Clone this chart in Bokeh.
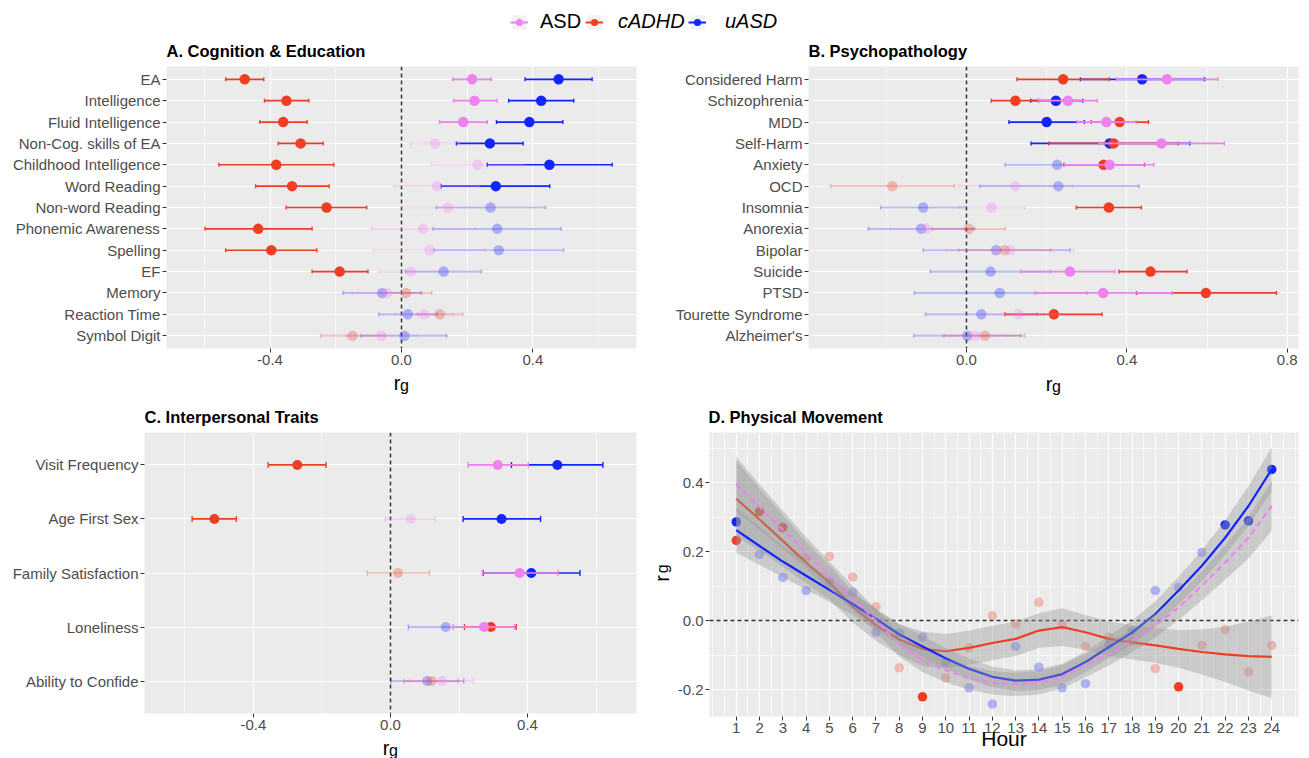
import numpy as np
from bokeh.plotting import figure
from bokeh.models import (FactorRange, Range1d, FixedTicker, PrintfTickFormatter, Span, Label,
                          Legend, LegendItem, ColumnDataSource)
from bokeh.layouts import column, row
from bokeh.embed import file_html
from bokeh.resources import INLINE

FONT = "Liberation Sans"
COL = {"ASD": "#EE82EE", "cADHD": "#EE3F24", "uASD": "#1426FF"}
BG = "#EBEBEB"
FADE = 0.3

# ---------------- Panel A: Cognition & Education ----------------
cats_A = ["EA", "Intelligence", "Fluid Intelligence", "Non-Cog. skills of EA", "Childhood Intelligence",
          "Word Reading", "Non-word Reading", "Phonemic Awareness", "Spelling", "EF", "Memory",
          "Reaction Time", "Symbol Digit"]
ASD_A_est = [0.215, 0.222, 0.188, 0.102, 0.232, 0.108, 0.141, 0.066, 0.085, 0.029, -0.044, 0.069, -0.061]
ASD_A_lo = [0.156, 0.159, 0.116, 0.027, 0.091, -0.023, 0.000, -0.092, -0.084, -0.069, -0.150, -0.020, -0.170]
ASD_A_hi = [0.273, 0.291, 0.261, 0.177, 0.373, 0.239, 0.282, 0.224, 0.254, 0.127, 0.062, 0.158, 0.048]
ASD_A_sig = [1, 1, 1, 0, 0, 0, 0, 0, 0, 0, 0, 0, 0]
cADHD_A_est = [-0.477, -0.350, -0.360, -0.307, -0.381, -0.333, -0.228, -0.436, -0.396, -0.188, 0.014, 0.117, -0.149]
cADHD_A_lo = [-0.535, -0.417, -0.431, -0.375, -0.556, -0.444, -0.351, -0.598, -0.535, -0.272, -0.064, 0.048, -0.246]
cADHD_A_hi = [-0.419, -0.282, -0.287, -0.238, -0.206, -0.220, -0.106, -0.272, -0.258, -0.102, 0.092, 0.186, -0.052]
cADHD_A_sig = [1, 1, 1, 1, 1, 1, 1, 1, 1, 1, 0, 0, 0]
uASD_A_est = [0.478, 0.425, 0.389, 0.269, 0.450, 0.287, 0.271, 0.291, 0.296, 0.128, -0.059, 0.019, 0.009]
uASD_A_lo = [0.376, 0.326, 0.289, 0.167, 0.261, 0.121, 0.106, 0.096, 0.099, 0.012, -0.178, -0.069, -0.123]
uASD_A_hi = [0.580, 0.524, 0.491, 0.370, 0.641, 0.451, 0.438, 0.486, 0.493, 0.243, 0.060, 0.108, 0.137]
uASD_A_sig = [1, 1, 1, 1, 1, 1, 0, 0, 0, 0, 0, 0, 0]

# ---------------- Panel B: Psychopathology ----------------
cats_B = ["Considered Harm", "Schizophrenia", "MDD", "Self-Harm", "Anxiety", "OCD", "Insomnia", "Anorexia",
          "Bipolar", "Suicide", "PTSD", "Tourette Syndrome", "Alzheimer's"]
ASD_B_est = [0.500, 0.253, 0.349, 0.486, 0.357, 0.122, 0.062, -0.100, 0.110, 0.258, 0.341, 0.130, 0.022]
ASD_B_lo = [0.374, 0.180, 0.275, 0.330, 0.245, -0.020, -0.020, -0.190, -0.050, 0.136, 0.172, 0.030, -0.060]
ASD_B_hi = [0.627, 0.326, 0.423, 0.643, 0.467, 0.265, 0.145, -0.010, 0.268, 0.370, 0.513, 0.230, 0.100]
ASD_B_sig = [1, 1, 1, 1, 1, 0, 0, 0, 0, 1, 1, 0, 0]
cADHD_B_est = [0.241, 0.122, 0.382, 0.367, 0.342, -0.185, 0.355, 0.006, 0.096, 0.459, 0.597, 0.218, 0.046]
cADHD_B_lo = [0.126, 0.062, 0.311, 0.205, 0.243, -0.339, 0.274, -0.085, -0.020, 0.380, 0.424, 0.096, -0.056]
cADHD_B_hi = [0.356, 0.180, 0.454, 0.528, 0.444, -0.030, 0.436, 0.097, 0.210, 0.550, 0.773, 0.338, 0.145]
cADHD_B_sig = [1, 1, 1, 1, 1, 0, 1, 0, 0, 1, 1, 1, 0]
uASD_B_est = [0.438, 0.223, 0.200, 0.357, 0.226, 0.229, -0.108, -0.113, 0.074, 0.060, 0.083, 0.037, 0.002]
uASD_B_lo = [0.284, 0.160, 0.106, 0.161, 0.096, 0.033, -0.214, -0.245, -0.108, -0.090, -0.130, -0.102, -0.131]
uASD_B_hi = [0.594, 0.290, 0.294, 0.557, 0.355, 0.430, 0.000, 0.020, 0.258, 0.210, 0.300, 0.176, 0.135]
uASD_B_sig = [1, 1, 1, 1, 0, 0, 0, 0, 0, 0, 0, 0, 0]

# ---------------- Panel C: Interpersonal Traits ----------------
cats_C = ["Visit Frequency", "Age First Sex", "Family Satisfaction", "Loneliness", "Ability to Confide"]
ASD_C_est = [0.313, 0.059, 0.377, 0.273, 0.151]
ASD_C_lo = [0.226, -0.015, 0.268, 0.183, 0.056]
ASD_C_hi = [0.402, 0.131, 0.489, 0.362, 0.242]
ASD_C_sig = [1, 0, 1, 1, 0]
cADHD_C_est = [-0.272, -0.514, 0.022, 0.293, 0.120]
cADHD_C_lo = [-0.357, -0.579, -0.068, 0.216, 0.039]
cADHD_C_hi = [-0.188, -0.450, 0.114, 0.367, 0.198]
cADHD_C_sig = [1, 1, 0, 1, 0]
uASD_C_est = [0.487, 0.324, 0.411, 0.161, 0.107]
uASD_C_lo = [0.353, 0.212, 0.270, 0.052, 0.002]
uASD_C_hi = [0.620, 0.438, 0.553, 0.270, 0.214]
uASD_C_sig = [1, 1, 1, 0, 0]

# ---------------- Panel D: Physical Movement ----------------
hours = list(range(1, 25))
cADHD_D = [0.232, 0.316, 0.270, 0.181, 0.186, 0.126, 0.040, -0.137, -0.221, -0.166, -0.079, 0.014,
           -0.010, 0.053, -0.012, -0.075, -0.048, -0.060, -0.139, -0.192, -0.072, -0.026, -0.149, -0.072]
cADHD_D_sig = [1, 1, 1, 0, 0, 0, 0, 0, 1, 0, 0, 0, 0, 0, 0, 0, 0, 0, 0, 1, 0, 0, 0, 0]
uASD_D = [0.286, 0.192, 0.125, 0.087, 0.111, 0.082, -0.034, -0.036, -0.048, -0.120, -0.195, -0.242,
          -0.075, -0.135, -0.195, -0.183, -0.070, -0.030, 0.087, 0.096, 0.197, 0.277, 0.289, 0.438]
uASD_D_sig = [1, 0, 0, 0, 0, 0, 0, 0, 0, 0, 0, 0, 0, 0, 0, 0, 0, 0, 0, 0, 0, 1, 1, 1]

cADHD_fit = [0.353, 0.293, 0.231, 0.168, 0.110, 0.040, -0.014, -0.055, -0.082, -0.089, -0.079, -0.065,
             -0.053, -0.029, -0.019, -0.034, -0.053, -0.063, -0.072, -0.082, -0.091, -0.098, -0.103, -0.105]
cADHD_lo = [0.243, 0.203, 0.156, 0.108, 0.060, -0.005, -0.059, -0.100, -0.132, -0.139, -0.129, -0.115,
            -0.103, -0.079, -0.074, -0.084, -0.103, -0.113, -0.122, -0.137, -0.156, -0.178, -0.203, -0.225]
cADHD_hi = [0.463, 0.383, 0.306, 0.228, 0.160, 0.085, 0.031, -0.010, -0.032, -0.039, -0.029, -0.015,
            -0.003, 0.021, 0.036, 0.016, -0.003, -0.013, -0.022, -0.027, -0.026, -0.018, -0.003, 0.015]
uASD_fit = [0.262, 0.216, 0.171, 0.130, 0.089, 0.048, 0.005, -0.040, -0.075, -0.110, -0.140, -0.163,
            -0.174, -0.171, -0.155, -0.120, -0.077, -0.035, 0.019, 0.087, 0.159, 0.240, 0.332, 0.438]
uASD_lo = [0.197, 0.161, 0.126, 0.090, 0.054, 0.016, -0.025, -0.070, -0.105, -0.140, -0.170, -0.193,
           -0.204, -0.201, -0.185, -0.150, -0.109, -0.070, -0.018, 0.047, 0.114, 0.190, 0.275, 0.373]
uASD_hi = [0.327, 0.271, 0.216, 0.170, 0.124, 0.080, 0.035, -0.010, -0.045, -0.080, -0.110, -0.133,
           -0.144, -0.141, -0.125, -0.090, -0.045, 0.000, 0.056, 0.127, 0.204, 0.290, 0.389, 0.503]
ASD_fit = [0.395, 0.329, 0.263, 0.197, 0.131, 0.065, 0.000, -0.070, -0.115, -0.145, -0.166, -0.180,
           -0.185, -0.180, -0.163, -0.130, -0.096, -0.058, -0.014, 0.038, 0.101, 0.168, 0.240, 0.332]
ASD_lo = [0.315, 0.264, 0.208, 0.152, 0.091, 0.029, -0.034, -0.104, -0.149, -0.179, -0.200, -0.214,
          -0.219, -0.214, -0.197, -0.164, -0.130, -0.092, -0.048, 0.002, 0.059, 0.118, 0.180, 0.260]
ASD_hi = [0.475, 0.394, 0.318, 0.242, 0.171, 0.101, 0.034, -0.036, -0.081, -0.111, -0.132, -0.146,
          -0.151, -0.146, -0.129, -0.096, -0.062, -0.024, 0.020, 0.074, 0.143, 0.218, 0.300, 0.404]


def base_fig(w, h, xr, yr, bl, br, bb):
    p = figure(width=w, height=h, x_range=xr, y_range=yr, output_backend="svg", toolbar_location=None,
               min_border_left=bl, min_border_right=br, min_border_top=0, min_border_bottom=bb,
               background_fill_color=BG, border_fill_color="white", outline_line_color=None)
    for ax in p.axis:
        ax.axis_line_color = None
        ax.major_tick_line_color = "#333333"
        ax.major_tick_out = 4
        ax.major_tick_in = 0
        ax.minor_tick_line_color = None
        ax.major_label_text_font = FONT
        ax.major_label_text_color = "#4D4D4D"
        ax.major_label_standoff = 2
        ax.major_label_text_font_size = "15px"
    p.grid.grid_line_color = "white"
    p.grid.grid_line_width = 1.2
    return p


def strip(w, h, xr, yr, bl=0, br=0, bt=0, bb=0):
    return figure(width=w, height=h, x_range=xr, y_range=yr, output_backend="svg", toolbar_location=None,
                  min_border_left=bl, min_border_right=br, min_border_top=bt, min_border_bottom=bb,
                  x_axis_type=None, y_axis_type=None, outline_line_color=None,
                  background_fill_color="white", border_fill_color="white")


def txt(p, text, x, y, size, align="center", baseline="alphabetic", angle=0.0, style="normal", xo=0):
    p.add_layout(Label(x=x, y=y, x_offset=xo, text=text, text_font=FONT, text_font_size=size,
                       text_font_style=style, text_align=align, text_baseline=baseline,
                       text_color="black", angle=angle))


TITLE_Y = 15.8


def title_strip(p, w, h, xr, bl, br, text):
    # strip above a panel; it shares the panel's x scale so x = left end of the frame
    t = strip(w, h, p.x_range, Range1d(0, h), bl, br)
    txt(t, text, xr[0], TITLE_Y, "16.5px", align="left", style="bold")
    return t


def forest(cats, data, xr, major, minor, w, h, bl, br, bb, psize, cap):
    yr = FactorRange(factors=list(reversed(cats)), range_padding=0.2 / len(cats))
    p = base_fig(w, h, Range1d(*xr), yr, bl, br, bb)
    p.xaxis.ticker = FixedTicker(ticks=major, minor_ticks=minor)
    p.xaxis.formatter = PrintfTickFormatter(format="%.1f")
    p.xgrid.minor_grid_line_color = "white"
    p.xgrid.minor_grid_line_width = 0.6
    p.add_layout(Span(location=0, dimension="height", line_color="#333333", line_dash="4 3",
                      line_width=1.5, level="underlay"))
    for key in ["uASD", "cADHD", "ASD"]:
        est, lo, hi, sig = data[key]
        src = ColumnDataSource(dict(cat=cats, est=est, lo=lo, hi=hi, a=[1.0 if s else FADE for s in sig]))
        p.segment(x0="lo", x1="hi", y0="cat", y1="cat", source=src, line_color=COL[key],
                  line_alpha="a", line_width=1.7)
        for end in ("lo", "hi"):
            p.scatter(x=end, y="cat", source=src, marker="dash", angle=np.pi / 2, size=cap,
                      line_color=COL[key], line_alpha="a", line_width=1.4)
        p.scatter(x="est", y="cat", source=src, size=psize, fill_color=COL[key], fill_alpha="a",
                  line_color=None)
    return p


def rg_strip(p, w, h, xr, bl, br, base):
    s = strip(w, h, p.x_range, Range1d(0, h), bl, br)
    cx = (xr[0] + xr[1]) / 2
    txt(s, "r", cx, h - base, "20px", xo=-4.5)
    txt(s, "g", cx, h - base - 3, "16px", xo=3)
    return s


DATA_A = {"ASD": (ASD_A_est, ASD_A_lo, ASD_A_hi, ASD_A_sig),
          "cADHD": (cADHD_A_est, cADHD_A_lo, cADHD_A_hi, cADHD_A_sig),
          "uASD": (uASD_A_est, uASD_A_lo, uASD_A_hi, uASD_A_sig)}
DATA_B = {"ASD": (ASD_B_est, ASD_B_lo, ASD_B_hi, ASD_B_sig),
          "cADHD": (cADHD_B_est, cADHD_B_lo, cADHD_B_hi, cADHD_B_sig),
          "uASD": (uASD_B_est, uASD_B_lo, uASD_B_hi, uASD_B_sig)}
DATA_C = {"ASD": (ASD_C_est, ASD_C_lo, ASD_C_hi, ASD_C_sig),
          "cADHD": (cADHD_C_est, cADHD_C_lo, cADHD_C_hi, cADHD_C_sig),
          "uASD": (uASD_C_est, uASD_C_lo, uASD_C_hi, uASD_C_sig)}

# Panel A
xA = (-0.715, 0.715)
pA = forest(cats_A, DATA_A, xA, [-0.4, 0.0, 0.4], [-0.6, -0.2, 0.2, 0.6], 650, 305, 166, 14, 23, 10.5, 4)
tA = title_strip(pA, 650, 28, xA, 166, 14, "A. Cognition & Education")
sA = rg_strip(pA, 650, 29, xA, 166, 14, 11)

# Panel B
xB = (-0.394, 0.828)
pB = forest(cats_B, DATA_B, xB, [0.0, 0.4, 0.8], [-0.2, 0.2, 0.6], 659, 305, 158, 11, 23, 10.5, 4)
tB = title_strip(pB, 659, 28, xB, 158, 11, "B. Psychopathology")
sB = rg_strip(pB, 659, 29, xB, 158, 11, 12)

# Panel C
xC = (-0.718, 0.718)
pC = forest(cats_C, DATA_C, xC, [-0.4, 0.0, 0.4], [-0.6, -0.2, 0.2, 0.6], 650, 304, 144, 14, 23, 10, 6)
tC = title_strip(pC, 650, 32, xC, 144, 14, "C. Interpersonal Traits")
sC = rg_strip(pC, 650, 22, xC, 144, 14, 11)

# Panel D
xD = (-0.15, 25.15)
yD = (-0.278, 0.545)
pD = base_fig(635, 326, Range1d(*xD), Range1d(*yD), 34, 11, 42)
pD.xaxis.ticker = FixedTicker(ticks=hours, minor_ticks=[k / 2 for k in range(0, 51)])
pD.xaxis.formatter = PrintfTickFormatter(format="%d")
pD.yaxis.ticker = FixedTicker(ticks=[-0.2, 0.0, 0.2, 0.4], minor_ticks=[-0.1, 0.1, 0.3, 0.5])
pD.yaxis.formatter = PrintfTickFormatter(format="%.1f")
pD.xaxis.axis_label = "Hour"
pD.xaxis.axis_label_text_font = FONT
pD.xaxis.axis_label_text_font_size = "21px"
pD.xaxis.axis_label_text_font_style = "normal"
pD.xaxis.axis_label_text_color = "black"
pD.xaxis.axis_label_standoff = -9
pD.xgrid.minor_grid_line_color = "white"
pD.xgrid.minor_grid_line_width = 0.6
pD.ygrid.minor_grid_line_color = "white"
pD.ygrid.minor_grid_line_width = 0.6
pD.add_layout(Span(location=0, dimension="width", line_color="#333333", line_dash="4 3",
                   line_width=1.5, level="underlay"))
for key, vals, sig in (("cADHD", cADHD_D, cADHD_D_sig), ("uASD", uASD_D, uASD_D_sig)):
    src = ColumnDataSource(dict(h=hours, v=vals, a=[1.0 if s else FADE for s in sig]))
    pD.scatter(x="h", y="v", source=src, size=9.5, fill_color=COL[key], fill_alpha="a", line_color=None)
for key, fit, lo, hi, dash in (("cADHD", cADHD_fit, cADHD_lo, cADHD_hi, "solid"),
                               ("uASD", uASD_fit, uASD_lo, uASD_hi, "solid"),
                               ("ASD", ASD_fit, ASD_lo, ASD_hi, "6 4")):
    pD.varea(x=hours, y1=lo, y2=hi, fill_color="#999999", fill_alpha=0.4)
    pD.line(x=hours, y=fit, line_color=COL[key], line_width=2.2, line_dash=dash)

# title strip over the whole D column (pixel x scale, frame left of D at 58 px)
tD = strip(659, 32, Range1d(0, 659), Range1d(0, 32))
txt(tD, "D. Physical Movement", 58, TITLE_Y, "16.5px", align="left", style="bold")

# rotated r_g strip left of panel D (shares D's y scale)
sD = strip(24, 326, Range1d(0, 24), pD.y_range, bb=42)
txt(sD, "r", 11, 0.122, "20px", baseline="middle", angle=np.pi / 2)
txt(sD, "g", 12, 0.150, "16px", baseline="middle", angle=np.pi / 2)

# Legend strip
leg = figure(width=1309, height=38, x_range=Range1d(0, 1), y_range=Range1d(0, 1), output_backend="svg",
             toolbar_location=None, min_border=0, outline_line_color=None,
             x_axis_type=None, y_axis_type=None)
for name, italic, x0, standoff in (("ASD", False, 510, 12), ("cADHD", True, 585, 15), ("uASD", True, 688, 19)):
    r_bg = leg.rect(x=[5], y=[5], width=1, height=1, fill_color="#F2F2F2", line_color=None)
    r_ln = leg.line(x=[5, 6], y=[5, 5], line_color=COL[name], line_width=2)
    r_pt = leg.scatter(x=[5], y=[5], size=8, fill_color=COL[name], line_color=None)
    lg = Legend(items=[LegendItem(label=name, renderers=[r_bg, r_ln, r_pt])], location=(x0, 5),
                padding=0, margin=0, border_line_color=None, background_fill_alpha=0,
                glyph_width=18, glyph_height=18, label_standoff=standoff, label_height=18,
                label_text_font=FONT, label_text_font_size="20px",
                label_text_font_style="italic" if italic else "normal", label_text_color="black",
                orientation="horizontal")
    leg.add_layout(lg)

layout = column(leg,
                row(column(tA, pA, sA), column(tB, pB, sB)),
                row(column(tC, pC, sC), column(tD, row(sD, pD))))
open("out.html", "w").write(file_html(layout, INLINE))
